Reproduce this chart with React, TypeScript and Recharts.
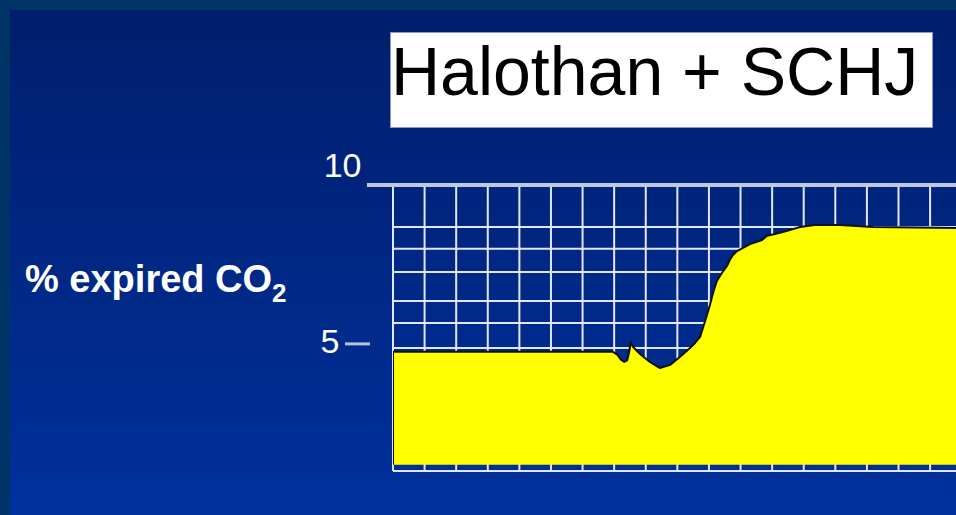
import React from 'react';
import { AreaChart, Area, XAxis, YAxis, CartesianGrid, ReferenceLine } from 'recharts';

// time in grid-column units, expired CO2 in %
const timeUnits = [0, 0, 6.96, 7.1, 7.22, 7.32, 7.41, 7.47, 7.53, 7.6, 7.7, 7.82, 8.13, 8.45, 8.77, 9.08, 9.4, 9.56, 9.72, 9.87, 10.03, 10.13, 10.25, 10.41, 10.57, 10.66, 10.76, 10.89, 11.08, 11.3, 11.52, 11.68, 11.84, 12.09, 12.34, 12.56, 12.88, 13.35, 14.15, 15.19, 17.82];
const co2Values = [1.2, 4.75, 4.75, 4.66, 4.5, 4.43, 4.48, 4.72, 5.06, 4.9, 4.8, 4.68, 4.43, 4.24, 4.34, 4.59, 4.87, 5.03, 5.22, 5.69, 6.22, 6.6, 6.98, 7.23, 7.45, 7.64, 7.8, 7.92, 8.02, 8.14, 8.21, 8.27, 8.4, 8.46, 8.52, 8.58, 8.68, 8.74, 8.74, 8.68, 8.65];

const gridColumns = [0, 1, 2, 3, 4, 5, 6, 7, 8, 9, 10, 11, 12, 13, 14, 15, 16, 17];
const gridLevels = [1, 4.87, 5.66, 6.35, 7.26, 7.99, 8.68, 10];
const axisTicks = [5, 10];
const baseLevel = 1.2;
const yDomain: [number, number] = [1, 10];
const xDomain: [number, number] = [0, 17.82];

const titleText = 'Halothan + SCHJ';
const axisLabel = '% expired CO';
const axisLabelSub = '2';

const data = timeUnits.map((t, i) => ({ t, co2: co2Values[i] }));

const FONT = '"Liberation Sans", Arial, sans-serif';

const horizontalGen = (props: any) => {
  const yAxis = props && props.yAxis;
  if (yAxis && typeof yAxis.scale === 'function') {
    return gridLevels.map((v) => yAxis.scale(v));
  }
  const off = props.offset;
  return gridLevels.map((v) => off.top + ((yDomain[1] - v) / (yDomain[1] - yDomain[0])) * off.height);
};

const verticalGen = (props: any) => {
  const xAxis = props && props.xAxis;
  if (xAxis && typeof xAxis.scale === 'function') {
    return gridColumns.map((v) => xAxis.scale(v));
  }
  const off = props.offset;
  return gridColumns.map((v) => off.left + ((v - xDomain[0]) / (xDomain[1] - xDomain[0])) * off.width);
};

const renderTick = (props: any) => {
  const { x, y, payload } = props;
  const v = payload.value;
  if (v === 10) {
    return (
      <g>
        <line x1={x - 26} x2={x} y1={y} y2={y} stroke="#c0c8e0" strokeWidth={4} />
        <text x={x - 31.5} y={y - 8} textAnchor="end" fill="#ffffff" fontSize={34} fontFamily={FONT}>
          {String(v)}
        </text>
      </g>
    );
  }
  return (
    <g>
      <line x1={x - 48} x2={x - 23} y1={y} y2={y} stroke="#b8c2dc" strokeWidth={3} />
      <text x={x - 53.5} y={y + 9} textAnchor="end" fill="#ffffff" fontSize={34} fontFamily={FONT}>
        {String(v)}
      </text>
    </g>
  );
};

const renderAxisLabel = (props: any) => {
  const vb = props.viewBox || { x: 0, y: 185 };
  return (
    <text x={vb.x + 25} y={vb.y + 107} fill="#ffffff" fontSize={38} fontWeight="bold" fontFamily={FONT}>
      {axisLabel}
      <tspan fontSize={26} dy={10}>{axisLabelSub}</tspan>
    </text>
  );
};

export default function App() {
  return (
    <div
      style={{
        position: 'fixed',
        left: 0,
        top: 0,
        width: 956,
        height: 515,
        overflow: 'hidden',
        background: '#003366',
        fontFamily: FONT,
      }}
    >
      <div
        style={{
          position: 'absolute',
          left: 10,
          top: 10,
          width: 980,
          height: 540,
          background: 'linear-gradient(180deg, #001e6c 0%, #0032a0 100%)',
        }}
      />
      <svg style={{ position: 'absolute', left: 0, top: 0 }} width={956} height={515}>
        <rect x={390.5} y={32.5} width={542} height={95} fill="#ffffff" stroke="#8a9ac8" strokeWidth={1} />
        <text x={391} y={95} fontSize={68} fill="#000000" fontFamily={FONT}>
          {titleText}
        </text>
      </svg>
      <div style={{ position: 'absolute', left: 0, top: 0 }}>
        <AreaChart width={956} height={515} data={data} margin={{ top: 185, right: 0, bottom: 44, left: 0 }}>
          <CartesianGrid
            stroke="#e2e7f5"
            strokeWidth={2}
            horizontalCoordinatesGenerator={horizontalGen}
            verticalCoordinatesGenerator={verticalGen}
          />
          <XAxis
            dataKey="t"
            type="number"
            domain={xDomain}
            ticks={gridColumns}
            height={0}
            tick={false}
            axisLine={false}
            tickLine={false}
            allowDataOverflow
          />
          <YAxis
            type="number"
            orientation="right"
            width={0}
            domain={yDomain}
            ticks={gridLevels}
            tick={false}
            axisLine={false}
            tickLine={false}
            allowDataOverflow
          />
          <YAxis
            yAxisId="lab"
            type="number"
            orientation="left"
            width={393}
            domain={yDomain}
            ticks={axisTicks}
            interval={0}
            tickSize={0}
            tickMargin={0}
            axisLine={false}
            tickLine={false}
            tick={renderTick}
            label={{ content: renderAxisLabel }}
            allowDataOverflow
          />
          <Area
            type="linear"
            dataKey="co2"
            baseValue={baseLevel}
            fill="#ffff00"
            fillOpacity={1}
            stroke="#111111"
            strokeWidth={2}
            strokeLinejoin="round"
            isAnimationActive={false}
            dot={false}
            activeDot={false}
          />
          <ReferenceLine y={10} stroke="#c0c8e0" strokeWidth={4} />
        </AreaChart>
      </div>
    </div>
  );
}
